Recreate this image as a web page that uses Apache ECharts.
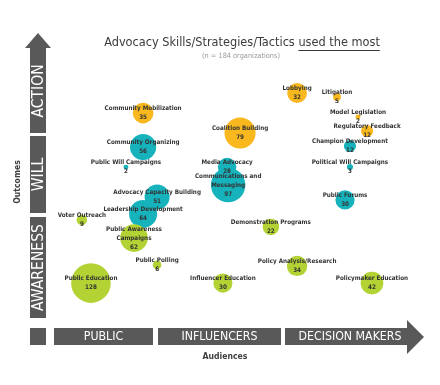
<!DOCTYPE html>
<html><head><meta charset="utf-8">
<script src="https://cdn.jsdelivr.net/npm/echarts@6/dist/echarts.min.js"></script>
<style>html,body{margin:0;padding:0;background:#fff}#c{width:440px;height:385px}</style>
</head><body><div id="c"></div>
<script>
// ---- data ----
const actionNames = ['Community Mobilization','Lobbying','Litigation','Model Legislation','Regulatory Feedback','Coalition Building'];
const actionValues = [35,32,5,2,12,79];
const actionAudience = [26.6,70.6,82,88,90.6,54.3];
const actionOutcome = [79.6,87.3,85.8,78.1,72.7,71.9];

const willNames = ['Community Organizing','Public Will Campaigns','Champion Development','Political Will Campaigns','Media Advocacy','Communications and\nMessaging','Public Forums','Advocacy Capacity Building','Leadership Development'];
const willValues = [56,2,12,3,28,97,30,51,64];
const willAudience = [26.6,21.7,85.7,85.7,50.6,50.9,84.3,30.6,26.6];
const willOutcome = [66.5,58.8,66.9,58.8,58.8,51.9,46.2,47.3,40.8];

const awareNames = ['Voter Outreach','Public Awareness\nCampaigns','Public Polling','Public Education','Demonstration Programs','Influencer Education','Policy Analysis/Research','Policymaker Education'];
const awareValues = [9,62,6,128,22,30,34,42];
const awareAudience = [9.1,24,30.6,11.7,63.1,49.4,70.6,92];
const awareOutcome = [38.5,31.5,21.2,14.2,35.8,14.2,20.8,14.2];

const outcomeLevels = ['ACTION','WILL','AWARENESS'];
const audienceLevels = ['PUBLIC','INFLUENCERS','DECISION MAKERS'];
const titleMain = 'Advocacy Skills/Strategies/Tactics ';
const titleEmph = 'used the most';
const subtitle = '(n = 184 organizations)';

// ---- build ----
const FAM = "'Liberation Sans Narrow','DejaVu Sans Condensed',sans-serif";
const cv = document.createElement('canvas').getContext('2d');
function measure(t, weight, size){ cv.font = weight+' '+size+'px '+FAM; return cv.measureText(t).width; }
function fit(t, weight, targetW){ return +(20*targetW/measure(t, weight, 20)).toFixed(2); }

const labelSize = fit('Community Mobilization','bold',77);
const titleSize = fit(titleMain+titleEmph,'normal',276);
const hSize = fit('DECISION MAKERS','normal',103);
const vSize = fit('AWARENESS','normal',87);
const axSize = fit('Audiences','bold',45);
const subSize = fit(subtitle,'normal',78);

function build(names, vals, xs, ys){
  return names.map((n,i)=>({name:n, value:[xs[i], ys[i], vals[i]]}));
}
const colors = ['#F9B81E','#17B3BD','#B3D335'];
function series(names, vals, xs, ys, color){
  return {
    type:'scatter',
    data: build(names, vals, xs, ys),
    symbolSize: v => Math.sqrt(v[2])*3.5,
    itemStyle:{color:color, opacity:1},
    label:{show:true, position:'inside', formatter: p => p.name + '\n' + p.value[2],
      fontFamily:FAM, fontSize:labelSize, fontWeight:'bold', color:'#333', lineHeight:9},
    emphasis:{disabled:true}
  };
}
const titleFont = titleSize + "px " + FAM;
const w1 = measure(titleMain,'normal',titleSize), w2 = measure(titleEmph,'normal',titleSize);
const tx = 242 - (w1+w2)/2;

const dark = '#595959';
const hFont = hSize + "px " + FAM, vFont = vSize + "px " + FAM;
const graphic = [
  {type:'polygon', shape:{points:[[30,133],[30,48],[25,48],[38,33],[51,48],[46,48],[46,133]]}, style:{fill:dark}},
  {type:'rect', shape:{x:30,y:136,width:16,height:77}, style:{fill:dark}},
  {type:'rect', shape:{x:30,y:217,width:16,height:101}, style:{fill:dark}},
  {type:'rect', shape:{x:30,y:328,width:16,height:17}, style:{fill:dark}},
  {type:'rect', shape:{x:54,y:328,width:99,height:17}, style:{fill:dark}},
  {type:'rect', shape:{x:158,y:328,width:123,height:17}, style:{fill:dark}},
  {type:'polygon', shape:{points:[[285,328],[407,328],[407,320],[424,337],[407,354],[407,345],[285,345]]}, style:{fill:dark}},
  {type:'text', x:38.5, y:91, rotation:Math.PI/2, style:{text:outcomeLevels[0], fill:'#fff', font:vFont, align:'center', verticalAlign:'middle'}},
  {type:'text', x:38.5, y:174.5, rotation:Math.PI/2, style:{text:outcomeLevels[1], fill:'#fff', font:vFont, align:'center', verticalAlign:'middle'}},
  {type:'text', x:38.5, y:267.5, rotation:Math.PI/2, style:{text:outcomeLevels[2], fill:'#fff', font:vFont, align:'center', verticalAlign:'middle'}},
  {type:'text', x:103.5, y:337, style:{text:audienceLevels[0], fill:'#fff', font:hFont, align:'center', verticalAlign:'middle'}},
  {type:'text', x:219.5, y:337, style:{text:audienceLevels[1], fill:'#fff', font:hFont, align:'center', verticalAlign:'middle'}},
  {type:'text', x:350, y:337, style:{text:audienceLevels[2], fill:'#fff', font:hFont, align:'center', verticalAlign:'middle'}},
  {type:'text', x:18, y:182, rotation:Math.PI/2, style:{text:'Outcomes', fill:'#404040', font:"bold "+axSize+"px "+FAM, align:'center', verticalAlign:'middle'}},
  {type:'text', x:225, y:357, style:{text:'Audiences', fill:'#404040', font:"bold "+axSize+"px "+FAM, align:'center', verticalAlign:'middle'}},
  {type:'text', x:tx, y:43, style:{text:titleMain, fill:'#3b3b3b', font:titleFont, align:'left', verticalAlign:'middle'}},
  {type:'text', x:tx+w1, y:43, style:{text:titleEmph, fill:'#3b3b3b', font:titleFont, align:'left', verticalAlign:'middle'}},
  {type:'line', shape:{x1:tx+w1, y1:50.5, x2:tx+w1+w2, y2:50.5}, style:{stroke:'#3b3b3b', lineWidth:1.2}},
  {type:'text', x:241, y:56, style:{text:subtitle, fill:'#999', font:subSize+"px "+FAM, align:'center', verticalAlign:'middle'}}
];

const chart = echarts.init(document.getElementById('c'), null, {renderer:'canvas'});
chart.setOption({
  animation:false,
  grid:{left:50, top:60, width:350, height:260},
  xAxis:{type:'value', min:0, max:100, show:false},
  yAxis:{type:'value', min:0, max:100, show:false},
  graphic: graphic,
  series:[
    series(actionNames, actionValues, actionAudience, actionOutcome, colors[0]),
    series(willNames, willValues, willAudience, willOutcome, colors[1]),
    series(awareNames, awareValues, awareAudience, awareOutcome, colors[2])
  ]
});
</script></body></html>
